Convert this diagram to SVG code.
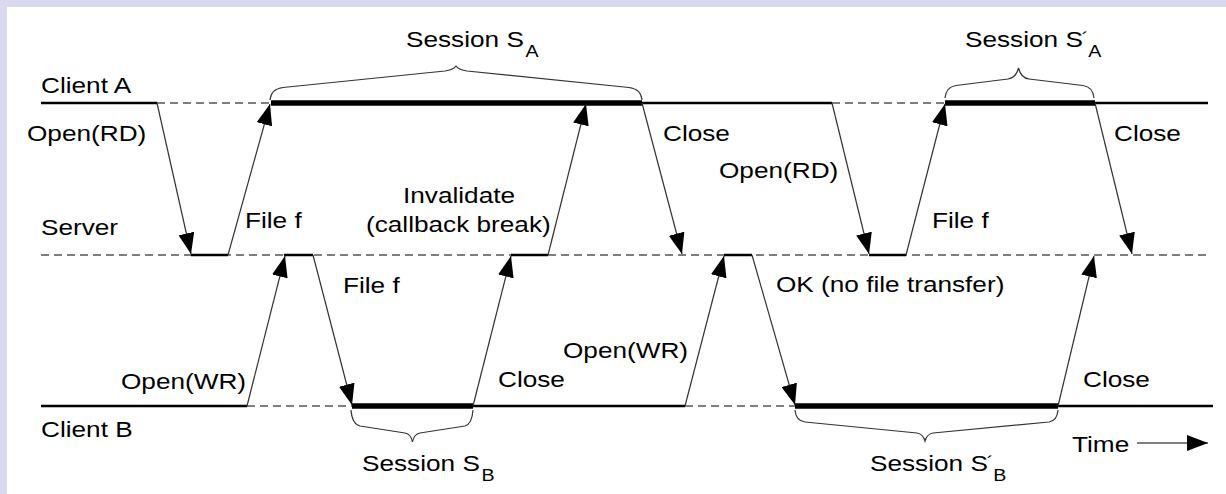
<svg xmlns="http://www.w3.org/2000/svg" width="1226" height="494" viewBox="0 0 1226 494">
<style>
.thin{stroke:#000;stroke-width:2.5;fill:none}
.thick{stroke:#000;stroke-width:5.5;fill:none}
.dash{stroke:#555;stroke-width:1.5;stroke-dasharray:8 5;fill:none}
.msg{stroke:#333;stroke-width:1.2;fill:none;marker-end:url(#ah)}
.brace{stroke:#333;stroke-width:1.2;fill:none}
.t{font-family:"Liberation Sans",Arial,sans-serif;font-size:22px;fill:#000}
.sub{font-size:16.5px}
</style>
<defs>
<marker id="ah" viewBox="0 0 21 16" refX="21" refY="8" markerWidth="21" markerHeight="16" markerUnits="userSpaceOnUse" orient="auto">
<path d="M0,0 L21,8 L0,16 z" fill="#000"/>
</marker>
</defs>
<rect x="0" y="0" width="1226" height="494" fill="#d9d9ef"/>
<rect x="7" y="7" width="1219" height="487" fill="#fff"/>

<g id="client-a">
<line class="thin" x1="41" y1="103" x2="157" y2="103"/>
<line class="dash" x1="157" y1="103" x2="271" y2="103"/>
<line class="thick" x1="271" y1="103" x2="642" y2="103"/>
<line class="thin" x1="642" y1="103" x2="832" y2="103"/>
<line class="dash" x1="832" y1="103" x2="945" y2="103"/>
<line class="thick" x1="945" y1="103" x2="1095" y2="103"/>
<line class="thin" x1="1095" y1="103" x2="1208" y2="103"/>
<text class="t" transform="translate(41,93) scale(1.19,1)">Client A</text>
</g>

<g id="server">
<line class="dash" x1="41" y1="255" x2="1207" y2="255"/>
<line class="thin" x1="191" y1="255" x2="228" y2="255"/>
<line class="thin" x1="284" y1="255" x2="313" y2="255"/>
<line class="thin" x1="511" y1="255" x2="548" y2="255"/>
<line class="thin" x1="724" y1="255" x2="752" y2="255"/>
<line class="thin" x1="869" y1="255" x2="906" y2="255"/>
<text class="t" transform="translate(41,235) scale(1.19,1)">Server</text>
</g>

<g id="client-b">
<line class="thin" x1="41" y1="406" x2="247" y2="406"/>
<line class="dash" x1="247" y1="406" x2="352" y2="406"/>
<line class="thick" x1="352" y1="406" x2="473" y2="406"/>
<line class="thin" x1="473" y1="406" x2="685" y2="406"/>
<line class="dash" x1="685" y1="406" x2="795" y2="406"/>
<line class="thick" x1="795" y1="406" x2="1058" y2="406"/>
<line class="thin" x1="1058" y1="406" x2="1213" y2="406"/>
<text class="t" transform="translate(41,437) scale(1.19,1)">Client B</text>
</g>

<g id="connectors">
<line class="msg" x1="157" y1="103" x2="191" y2="254"/>
<line class="msg" x1="228" y1="255" x2="270" y2="104"/>
<line class="msg" x1="247" y1="406" x2="285" y2="256"/>
<line class="msg" x1="313" y1="255" x2="352" y2="405"/>
<line class="msg" x1="473" y1="406" x2="511" y2="256"/>
<line class="msg" x1="548" y1="255" x2="586" y2="104"/>
<line class="msg" x1="642" y1="103" x2="682" y2="254"/>
<line class="msg" x1="685" y1="406" x2="724" y2="256"/>
<line class="msg" x1="752" y1="255" x2="795" y2="405"/>
<line class="msg" x1="832" y1="103" x2="869" y2="254"/>
<line class="msg" x1="906" y1="255" x2="945" y2="104"/>
<line class="msg" x1="1095" y1="103" x2="1132" y2="254"/>
<line class="msg" x1="1058" y1="406" x2="1094" y2="256"/>
<line class="msg" x1="1137" y1="443" x2="1208" y2="443" style="stroke:#000"/>
</g>

<g id="braces">
<path class="brace" d="M270,100 Q271,89 283,87.5 L445,71 Q453,70 456,66 Q459,70 467,71 L629,87.5 Q641,89 642,100"/>
<path class="brace" d="M945,98 Q946,87 956,85.5 L1008,79 Q1016,78 1018.5,68 Q1021,78 1029,79 L1083,85.5 Q1093,87 1094,98"/>
<path class="brace" d="M351,410 Q352,424 360,426 L405,433 Q411,434 412.5,442 Q414,434 420,433 L465,426 Q472,424 473,410"/>
<path class="brace" d="M795,410 Q796,421 805,422 L917,433 Q923,434 925,441 Q927,434 933,433 L1049,422 Q1057,421 1058,410"/>
</g>

<g id="labels">
<text class="t" transform="translate(27,141) scale(1.19,1)">Open(RD)</text>
<text class="t" transform="translate(245,228) scale(1.19,1)">File f</text>
<text class="t" transform="translate(121,389) scale(1.19,1)">Open(WR)</text>
<text class="t" transform="translate(343,292.5) scale(1.19,1)">File f</text>
<text class="t" transform="translate(403,202.5) scale(1.19,1)">Invalidate</text>
<text class="t" transform="translate(366,231.5) scale(1.19,1)">(callback break)</text>
<text class="t" transform="translate(498,386.5) scale(1.19,1)">Close</text>
<text class="t" transform="translate(663,140.5) scale(1.19,1)">Close</text>
<text class="t" transform="translate(563,358) scale(1.19,1)">Open(WR)</text>
<text class="t" transform="translate(719,178) scale(1.19,1)">Open(RD)</text>
<text class="t" transform="translate(776,292) scale(1.19,1)">OK (no file transfer)</text>
<text class="t" transform="translate(932,228) scale(1.19,1)">File f</text>
<text class="t" transform="translate(1114,140.5) scale(1.19,1)">Close</text>
<text class="t" transform="translate(1083,386.5) scale(1.19,1)">Close</text>
<text class="t" transform="translate(1072,451.5) scale(1.19,1)">Time</text>
<text class="t" transform="translate(406,46.5) scale(1.19,1)">Session S<tspan class="sub" dx="1.5" dy="10">A</tspan></text>
<text class="t" transform="translate(965,46.5) scale(1.19,1)">Session S<tspan class="sub" dx="-1" dy="-3">´</tspan><tspan class="sub" dy="13">A</tspan></text>
<text class="t" transform="translate(362,470.5) scale(1.19,1)">Session S<tspan class="sub" dx="1.5" dy="10">B</tspan></text>
<text class="t" transform="translate(870,470.5) scale(1.19,1)">Session S<tspan class="sub" dx="-1" dy="-3">´</tspan><tspan class="sub" dy="13">B</tspan></text>
</g>
</svg>
